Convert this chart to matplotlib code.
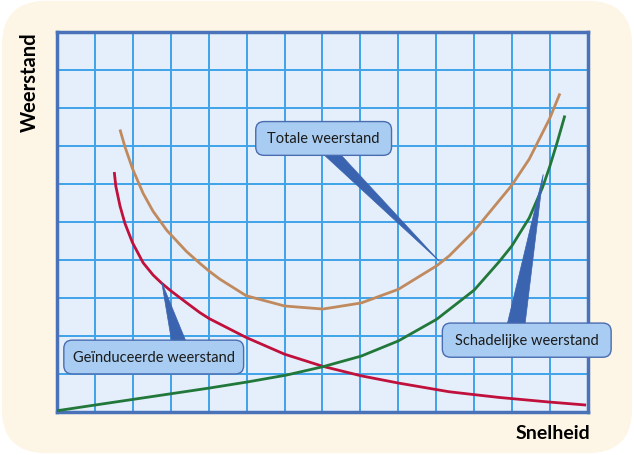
import numpy as np
import matplotlib.pyplot as plt
from matplotlib.patches import FancyBboxPatch, Polygon

# snelheid / weerstand punten (rasterwaarden, 14 x 10 hokjes)
totaal_x = [1.66, 1.79, 1.99, 2.27, 2.53, 2.89, 3.41, 3.76, 4.01, 4.29, 4.99, 6.0, 7.01,
            8.02, 9.0, 10.01, 10.34, 11.0, 11.99, 12.45, 12.99, 13.26]
totaal_y = [7.43, 6.98, 6.40, 5.75, 5.28, 4.78, 4.22, 3.91, 3.70, 3.49, 3.05, 2.78, 2.70,
            2.86, 3.22, 3.84, 4.10, 4.76, 5.96, 6.65, 7.72, 8.38]

geinduceerd_x = [1.51, 1.55, 1.66, 1.79, 1.99, 2.27, 2.53, 2.76, 3.0, 3.41, 3.76, 4.01, 4.99,
                 6.0, 7.01, 8.02, 9.0, 10.34, 10.95, 11.66, 12.97, 13.95]
geinduceerd_y = [6.31, 5.94, 5.42, 4.96, 4.45, 3.92, 3.60, 3.38, 3.18, 2.87, 2.61, 2.45, 1.95,
                 1.51, 1.19, 0.94, 0.75, 0.52, 0.45, 0.37, 0.25, 0.17]

schadelijk_x = [0, 1.0, 2.01, 3.02, 4.03, 5.03, 6.05, 7.01, 8.02, 9.0, 10.01, 11.0, 11.66,
                11.99, 12.45, 12.8, 12.99, 13.19, 13.39]
schadelijk_y = [0.02, 0.17, 0.32, 0.47, 0.62, 0.78, 0.96, 1.18, 1.46, 1.86, 2.43, 3.2, 3.95,
                4.36, 5.1, 5.9, 6.45, 7.1, 7.8]

labels = ['Totale weerstand', 'Geïnduceerde weerstand', 'Schadelijke weerstand']

fig = plt.figure(figsize=(6.34, 4.56), dpi=100)
fig.patch.set_facecolor('white')
# achtergrond met ronde hoeken
bg = FancyBboxPatch((0.003, 0.004), 0.994, 0.992, boxstyle='round,pad=0,rounding_size=0.07',
                    transform=fig.transFigure, facecolor='#fdf5e6', edgecolor='none',
                    mutation_aspect=634 / 456, zorder=-5)
fig.patches.append(bg)

ax = fig.add_axes([57 / 634, 43.5 / 456, 531 / 634, 379.5 / 456])
ax.set_facecolor('#e4effb')
ax.set_xlim(0, 14)
ax.set_ylim(0, 10)
ax.set_xticks(np.arange(0, 15))
ax.set_yticks(np.arange(0, 11))
ax.tick_params(length=0, labelbottom=False, labelleft=False)
ax.grid(True, color='#3fa2ea', lw=1.4)
ax.set_axisbelow(True)
for s in ax.spines.values():
    s.set_color('#4a72b8')
    s.set_linewidth(2.5)

ax.plot(totaal_x, totaal_y, color='#c08a5e', lw=2, solid_capstyle='butt',
        solid_joinstyle='round', zorder=3)
ax.plot(geinduceerd_x, geinduceerd_y, color='#c0103c', lw=2, solid_capstyle='butt',
        solid_joinstyle='round', zorder=3)
ax.plot(schadelijk_x, schadelijk_y, color='#22783a', lw=2, solid_capstyle='butt',
        solid_joinstyle='round', zorder=3)

# callouts: (links, onder, breedte, hoogte), wig-basis, wig-punt
callouts = [
    ((5.24, 6.75, 3.58, 0.89), [(7.0, 6.8), (7.45, 6.8)], (10.08, 3.96)),
    ((0.18, 0.99, 4.74, 0.89), [(3.03, 1.8), (3.42, 1.8)], (2.76, 3.41)),
    ((10.16, 1.43, 4.45, 0.90), [(11.87, 2.3), (12.34, 2.3)], (12.82, 6.25)),
]
for txt, (box, base, tip) in zip(labels, callouts):
    wedge = Polygon([base[0], base[1], tip], closed=True, facecolor='#3a63b0',
                    edgecolor='#3a63b0', lw=0.5, zorder=4, clip_on=False)
    ax.add_patch(wedge)
    x0, y0, w, h = box
    p = FancyBboxPatch((x0, y0), w, h, boxstyle='round,pad=0,rounding_size=0.22',
                       facecolor='#a9cdf2', edgecolor='#4a6cb0', lw=1, zorder=5, clip_on=False)
    ax.add_patch(p)
    ax.text(x0 + w / 2, y0 + h / 2, txt, ha='center', va='center', fontsize=10.5,
            family='Lato', color='#1a1a1a', zorder=6, clip_on=False)

fig.text(30 / 634, 1 - 82 / 456, 'Weerstand', rotation=90, ha='center', va='center',
         fontsize=14.5, fontweight='bold', family='Lato')
fig.text(553 / 634, 1 - 434 / 456, 'Snelheid', ha='center', va='center',
         fontsize=14, fontweight='bold', family='Lato')

fig.savefig('out.png', dpi=100, facecolor=fig.get_facecolor())
